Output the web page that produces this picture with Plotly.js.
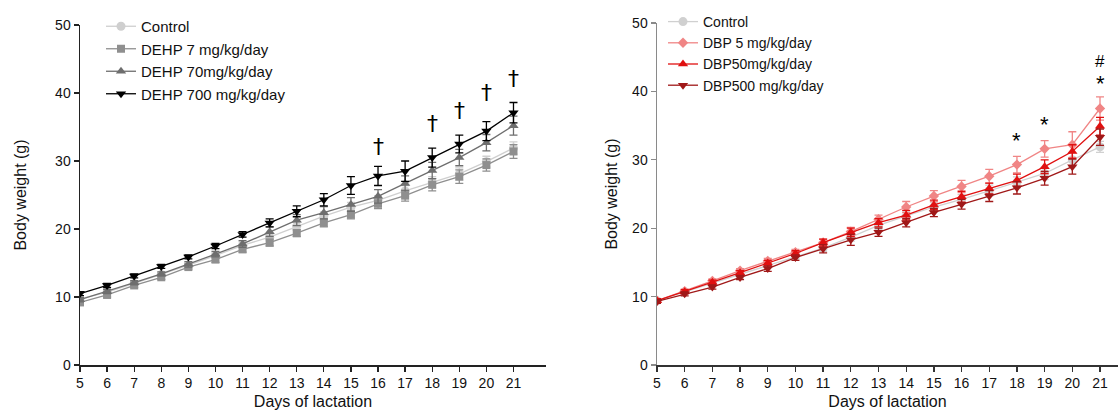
<!DOCTYPE html>
<html>
<head>
<meta charset="utf-8">
<script src="https://cdn.plot.ly/plotly-3.0.1.min.js"></script>
<style>html,body{margin:0;padding:0;background:#fff;}#chart{width:1118px;height:412px;}</style>
</head>
<body>
<div id="chart"></div>
<script>
const days = [5,6,7,8,9,10,11,12,13,14,15,16,17,18,19,20,21];

// Left panel (DEHP)
const ctrlA = [9.7,10.7,12.0,13.3,14.7,16.1,17.6,18.8,20.4,21.9,23.2,24.2,25.6,26.9,28.1,29.9,31.9];
const ctrlAErr = [0.3,0.3,0.3,0.3,0.4,0.4,0.5,0.5,0.6,0.6,0.7,0.7,0.8,0.8,0.9,0.8,0.9];
const dehp7 = [9.2,10.3,11.7,12.9,14.4,15.5,17.0,18.0,19.4,20.9,22.1,23.7,24.9,26.5,27.7,29.4,31.4];
const dehp7Err = [0.3,0.3,0.3,0.3,0.3,0.4,0.4,0.5,0.5,0.6,0.6,0.7,0.8,0.9,1.0,0.9,1.0];
const dehp70 = [9.6,10.8,12.1,13.4,14.8,16.3,17.8,19.6,21.3,22.4,23.6,24.8,26.7,28.6,30.5,32.7,35.2];
const dehp70Err = [0.3,0.3,0.3,0.3,0.4,0.4,0.5,0.7,0.8,0.9,1.0,1.0,1.1,1.2,1.2,1.2,1.4];
const dehp700 = [10.5,11.7,13.1,14.5,15.9,17.5,19.2,20.9,22.6,24.3,26.4,27.8,28.5,30.5,32.5,34.4,37.1];
const dehp700Err = [0.3,0.3,0.3,0.3,0.3,0.4,0.4,0.6,0.8,0.9,1.3,1.4,1.5,1.4,1.3,1.4,1.5];
const daggerDays = [16,18,19,20,21];
const daggerY = [32.2,35.5,37.4,40.0,42.2];

// Right panel (DBP)
const ctrlB = [9.4,10.7,11.9,13.2,14.6,15.9,17.1,18.7,20.4,21.8,23.1,24.2,25.5,26.7,28.0,30.0,31.9];
const ctrlBErr = [0.3,0.3,0.3,0.3,0.4,0.4,0.5,0.6,0.6,0.6,0.7,0.7,0.8,0.8,0.9,1.0,0.8];
const dbp5 = [9.4,10.8,12.3,13.8,15.2,16.5,17.9,19.5,21.3,23.1,24.7,26.1,27.6,29.3,31.6,32.2,37.5];
const dbp5Err = [0.3,0.3,0.3,0.3,0.4,0.4,0.5,0.6,0.6,0.8,0.8,0.9,1.0,1.2,1.2,1.9,1.7];
const dbp50 = [9.4,10.7,12.1,13.5,14.9,16.3,17.9,19.4,20.8,21.9,23.4,24.6,25.8,27.0,29.0,31.2,34.9];
const dbp50Err = [0.3,0.3,0.3,0.3,0.4,0.4,0.5,0.6,0.6,0.7,0.7,0.8,0.8,0.9,1.0,1.0,1.3];
const dbp500 = [9.3,10.4,11.4,12.8,14.1,15.7,17.0,18.3,19.4,20.8,22.3,23.5,24.7,25.9,27.3,29.0,33.3];
const dbp500Err = [0.3,0.3,0.3,0.3,0.4,0.4,0.6,0.8,0.6,0.6,0.6,0.7,0.8,0.9,1.0,1.1,1.2];
const starDays = [18,19,21];
const starY = [32.8,35.1,41.2];
const hashDays = [21];
const hashY = [44.4];

function tr(name, y, err, color, symbol, size, xa, ya, legend) {
  return {
    x: days, y: y, name: name, type: 'scatter', mode: 'lines+markers',
    xaxis: xa, yaxis: ya, legend: legend,
    line: {color: color, width: 1.3},
    marker: {color: color, symbol: symbol, size: size},
    error_y: {type: 'data', array: err, visible: true, color: color, thickness: 1.3, width: 4}
  };
}

const data = [
  tr('Control', ctrlA, ctrlAErr, '#cfcfcf', 'circle', 9, 'x', 'y', 'legend'),
  tr('DEHP 7 mg/kg/day', dehp7, dehp7Err, '#8f8f8f', 'square', 8, 'x', 'y', 'legend'),
  tr('DEHP 70mg/kg/day', dehp70, dehp70Err, '#6e6e6e', 'triangle-up', 9, 'x', 'y', 'legend'),
  tr('DEHP 700 mg/kg/day', dehp700, dehp700Err, '#000000', 'triangle-down', 9, 'x', 'y', 'legend'),
  tr('Control', ctrlB, ctrlBErr, '#d0d0d0', 'circle', 9, 'x2', 'y2', 'legend2'),
  tr('DBP 5 mg/kg/day', dbp5, dbp5Err, '#f08585', 'diamond', 8, 'x2', 'y2', 'legend2'),
  tr('DBP50mg/kg/day', dbp50, dbp50Err, '#e01010', 'triangle-up', 9, 'x2', 'y2', 'legend2'),
  tr('DBP500 mg/kg/day', dbp500, dbp500Err, '#a01818', 'triangle-down', 9, 'x2', 'y2', 'legend2')
];

const annotations = [];
daggerDays.forEach((d, i) => annotations.push({x: d, y: daggerY[i], xref: 'x', yref: 'y', text: '†', showarrow: false, font: {size: 22, color: '#000', family: 'DejaVu Sans'}}));
starDays.forEach((d, i) => annotations.push({x: d, y: starY[i], xref: 'x2', yref: 'y2', text: '*', showarrow: false, font: {size: 22, color: '#000', family: 'Liberation Sans'}}));
hashDays.forEach((d, i) => annotations.push({x: d, y: hashY[i], xref: 'x2', yref: 'y2', text: '#', showarrow: false, font: {size: 17, color: '#000', family: 'Liberation Sans'}}));

const FF = 'Liberation Sans, Arial, sans-serif';
const tickFont = {family: FF, size: 14, color: '#111'};
const xBase = {
  tickmode: 'array', tickvals: days, ticktext: days.map(String),
  showline: true, linewidth: 1.5, ticks: 'outside', ticklen: 5, tickwidth: 1.3,
  showgrid: false, zeroline: false, tickfont: tickFont,
  title: {text: 'Days of lactation', font: {family: FF, size: 16, color: '#111'}, standoff: 5}
};
const yBase = {
  range: [0, 50], tickvals: [0,10,20,30,40,50],
  showline: true, linewidth: 1.5, ticks: 'outside', ticklen: 5, tickwidth: 1.3,
  showgrid: false, zeroline: false, tickfont: tickFont
};

const layout = {
  width: 1118, height: 412,
  margin: {l: 0, r: 0, t: 0, b: 0},
  paper_bgcolor: '#fff', plot_bgcolor: '#fff',
  font: {family: FF, size: 14, color: '#111'},
  showlegend: true,
  xaxis: Object.assign({}, xBase, {domain: [80/1118, 546/1118], range: [5, 22.2], anchor: 'y', linecolor: '#222', tickcolor: '#222'}),
  yaxis: Object.assign({}, yBase, {domain: [47/412, 387/412], anchor: 'x', linecolor: '#222', tickcolor: '#222',
    title: {text: 'Body weight (g)', font: {family: FF, size: 16, color: '#111'}, standoff: 24}}),
  xaxis2: Object.assign({}, xBase, {domain: [657/1118, 1], range: [5, 21.65], anchor: 'y2', linecolor: '#333', tickcolor: '#333'}),
  yaxis2: Object.assign({}, yBase, {domain: [47/412, 389/412], anchor: 'x2', linecolor: '#8a8a8a', tickcolor: '#8a8a8a',
    title: {text: 'Body weight (g)', font: {family: FF, size: 16, color: '#111'}, standoff: 10}}),
  legend: {x: 101/1118, y: 1 - 10/412, xanchor: 'left', yanchor: 'top', bgcolor: 'rgba(0,0,0,0)', font: {size: 15, color: '#111'}},
  legend2: {x: 663/1118, y: 1 - 6/412, xanchor: 'left', yanchor: 'top', bgcolor: 'rgba(0,0,0,0)', font: {size: 14, color: '#111'}},
  annotations: annotations
};

Plotly.newPlot('chart', data, layout, {displayModeBar: false, staticPlot: true});
</script>
</body>
</html>
